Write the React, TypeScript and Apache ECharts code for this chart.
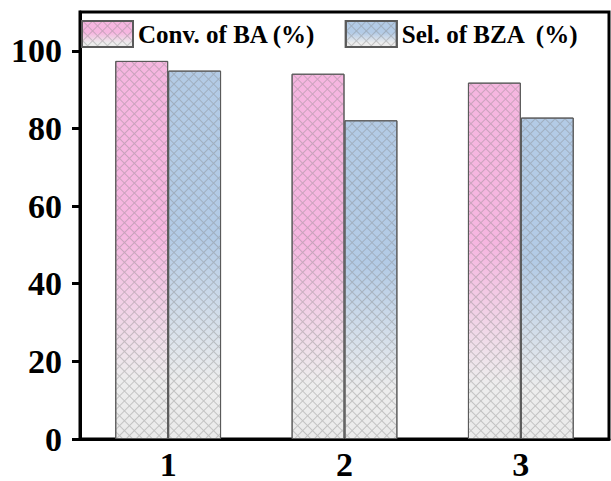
import React, { useEffect, useRef } from "react";
import * as echarts from "echarts";

const categories = ["1", "2", "3"];
const convBA = [97.4, 94.1, 91.8];
const selBZA = [94.9, 82.1, 82.8];
const yTicks = [0, 20, 40, 60, 80, 100];
const seriesNames = ["Conv. of BA (%)", "Sel. of BZA  (%)"];

const FONT = "'Liberation Serif', 'Times New Roman', serif";

const decal = {
  symbol: "rect",
  symbolSize: 1,
  symbolKeepAspect: false,
  color: "rgba(130,130,130,0.38)",
  backgroundColor: "rgba(0,0,0,0)",
  dashArrayX: [
    [1, 6],
    [7, 0],
  ],
  dashArrayY: [6, 0, 1, 0],
  rotation: Math.PI / 4,
};

function grad(top: string) {
  return new echarts.graphic.LinearGradient(0, 0, 0, 1, [
    { offset: 0, color: top },
    { offset: 0.45, color: top },
    { offset: 0.85, color: "#ededed" },
    { offset: 1, color: "#ebebeb" },
  ]);
}

export default function App() {
  const ref = useRef<HTMLDivElement>(null);
  useEffect(() => {
    if (!ref.current) return;
    const chart = echarts.init(ref.current, undefined, { renderer: "svg" });
    chart.setOption({
      animation: false,
      aria: { enabled: true, decal: { show: true } },
      grid: {
        left: 80,
        right: 2,
        top: 12,
        bottom: 41,
        show: true,
        borderColor: "#000",
        borderWidth: 3,
        backgroundColor: "transparent",
      },
      legend: {
        left: 76,
        top: 15,
        icon: "rect",
        itemWidth: 51,
        itemHeight: 26,
        itemGap: 29,
        textStyle: {
          fontFamily: FONT,
          fontWeight: "bold",
          fontSize: 25,
          color: "#000",
        },
        data: seriesNames,
      },
      xAxis: {
        type: "category",
        data: categories,
        axisLine: { lineStyle: { color: "#000", width: 3 } },
        axisTick: { show: false },
        axisLabel: {
          fontFamily: FONT,
          fontWeight: "bold",
          fontSize: 34,
          lineHeight: 28,
          color: "#000",
          margin: 11,
        },
        splitLine: { show: false },
      },
      yAxis: {
        type: "value",
        min: 0,
        max: 110,
        interval: 20,
        axisLine: { show: true, lineStyle: { color: "#000", width: 3 } },
        axisTick: {
          show: true,
          length: 8,
          lineStyle: { color: "#000", width: 3 },
          customValues: yTicks,
        },
        axisLabel: {
          fontFamily: FONT,
          fontWeight: "bold",
          fontSize: 34,
          color: "#000",
          margin: 18,
          customValues: yTicks,
        },
        splitLine: { show: false },
      },
      series: [
        {
          name: seriesNames[0],
          type: "bar",
          data: convBA,
          barGap: "0%",
          barCategoryGap: "40%",
          itemStyle: {
            color: grad("#f6b6e0"),
            borderColor: "#5a5a5a",
            borderWidth: 1,
            decal,
          },
        },
        {
          name: seriesNames[1],
          type: "bar",
          data: selBZA,
          barGap: "0%",
          barCategoryGap: "40%",
          itemStyle: {
            color: grad("#b3cbe6"),
            borderColor: "#5a5a5a",
            borderWidth: 1,
            decal,
          },
        },
      ],
    });
    return () => chart.dispose();
  }, []);
  return (
    <div
      ref={ref}
      style={{ position: "fixed", left: 0, top: 0, width: 611, height: 481, background: "#fff" }}
    />
  );
}
